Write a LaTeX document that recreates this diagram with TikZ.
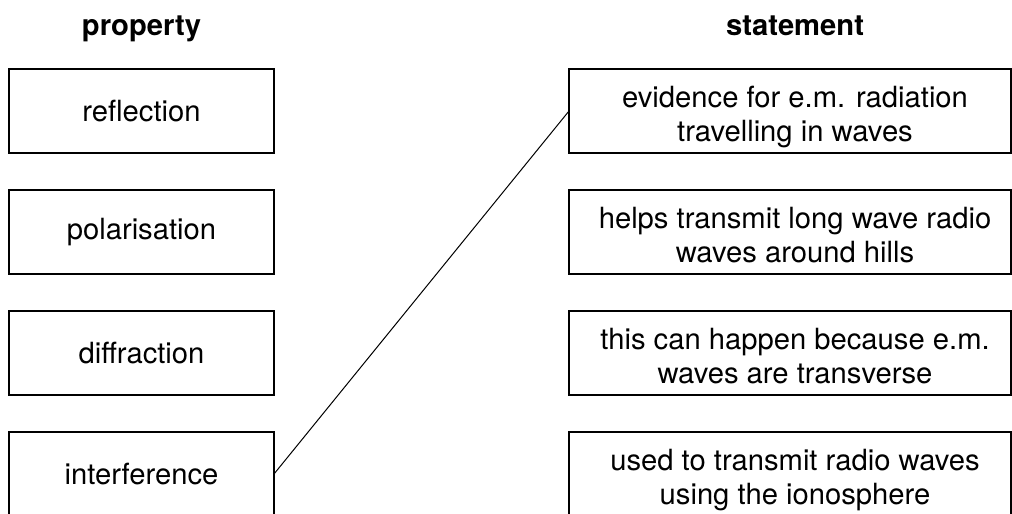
\documentclass[tikz,border=0pt]{standalone}
\usepackage{fontspec}
\setmainfont{TeX Gyre Heros}
\usetikzlibrary{positioning}
\newcommand{\twolines}[2]{\rule{0pt}{17.7pt}\hspace*{5pt}#1\\\hspace*{5pt}#2\rule[-4pt]{0pt}{4pt}}

\begin{document}
\begin{tikzpicture}[
		x=0.5pt, y=-0.5pt,
		font=\fontsize{14.6}{17}\selectfont,
		every node/.style={inner sep=0pt, outer sep=0pt},
		heading/.style={anchor=base, font=\fontsize{14.6}{17}\selectfont\bfseries},
		propbox/.style={draw, line width=0.6pt, minimum width=132.5pt, minimum height=42pt},
		statebox/.style={draw, line width=0.6pt, minimum width=221pt, minimum height=42pt, align=center}
	]
		\useasboundingbox (0,0) rectangle (1012,514);
		\def\xl{141.5}
		\def\xr{790}

		% Column headings
		\node[heading] (hprop) at (\xl,35) {property};
		\node[heading] (hstate) at (\xr+5,35) {statement};

		% Properties
		\node[propbox] (refl) at (\xl,111) {reflection};
		\node[propbox] (pola) at (\xl,232) {polarisation};
		\node[propbox] (diff) at (\xl,353) {diffraction};
		\node[propbox] (intf) at (\xl,474) {interference};

		% Statements
		\node[statebox] (evid) at (\xr,111) {\twolines{evidence for e.m. radiation}{travelling in waves}};
		\node[statebox] (hills) at (\xr,232) {\twolines{helps transmit long wave radio}{waves around hills}};
		\node[statebox] (trans) at (\xr,353) {\twolines{this can happen because e.m.}{waves are transverse}};
		\node[statebox] (iono) at (\xr,474) {\twolines{used to transmit radio waves}{using the ionosphere}};

		% Given match
		\draw[line width=0.5pt] (intf.east) -- (evid.west);
	\end{tikzpicture}
\end{document}
